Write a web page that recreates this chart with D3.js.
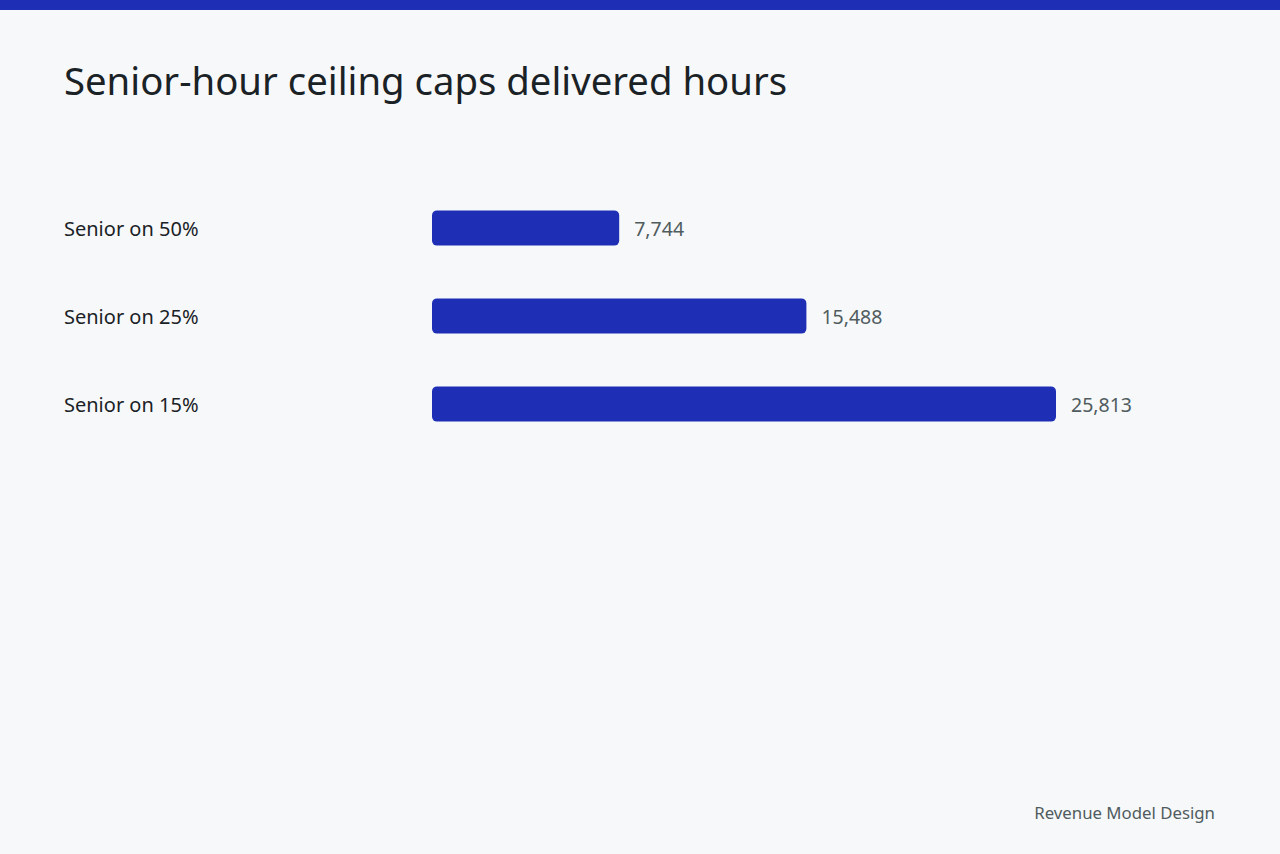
<!DOCTYPE html>
<html lang="en">
<head>
    <meta charset="UTF-8" />
    <title>Senior-hour ceiling caps delivered hours</title>
    <script src="https://d3js.org/d3.v7.min.js"></script>
    <style>
        body {
            margin: 0;
            background: #f6f8fa;
            font-family: "Noto Sans", sans-serif;
        }
    </style>
</head>
<body>
    <script>
        // Chart data
        var categories = ["Senior on 50%", "Senior on 25%", "Senior on 15%"];
        var hours = [7744, 15488, 25813];

        var w = 1280;
        var h = 854;

        var svg = d3.select("body")
            .append("svg")
            .attr("width", w)
            .attr("height", h);

        svg.append("rect")
            .attr("width", w)
            .attr("height", h)
            .style("fill", "#f6f8fa");

        // Top accent stripe
        svg.append("rect")
            .attr("width", w)
            .attr("height", 10)
            .style("fill", "#1f2fb5");

        // Title
        svg.append("text")
            .attr("x", 64)
            .attr("y", 95)
            .style("font-size", "38.3px")
            .style("fill", "#1b2226")
            .text("Senior-hour ceiling caps delivered hours");

        var xScale = d3.scaleLinear()
            .domain([0, d3.max(hours)])
            .range([432, 1056]);

        var yScale = d3.scaleBand()
            .domain(categories)
            .range([184, 448])
            .paddingInner(0.6)
            .paddingOuter(0.3);

        var rows = categories.map(function (c, i) { return { name: c, value: hours[i] }; });

        // Category labels
        svg.selectAll(".cat")
            .data(rows)
            .enter()
            .append("text")
            .attr("class", "cat")
            .attr("x", 64)
            .attr("y", function (d) { return yScale(d.name) + yScale.bandwidth() / 2 + 1; })
            .attr("dy", "0.35em")
            .style("font-size", "20px")
            .style("fill", "#1b2226")
            .text(function (d) { return d.name; });

        // Bars
        svg.selectAll(".bar")
            .data(rows)
            .enter()
            .append("rect")
            .attr("class", "bar")
            .attr("x", xScale(0))
            .attr("y", function (d) { return yScale(d.name); })
            .attr("width", function (d) { return xScale(d.value) - xScale(0); })
            .attr("height", yScale.bandwidth())
            .attr("rx", 5)
            .style("fill", "#1f2fb5");

        // Value labels
        svg.selectAll(".val")
            .data(rows)
            .enter()
            .append("text")
            .attr("class", "val")
            .attr("x", function (d) { return xScale(d.value) + 15; })
            .attr("y", function (d) { return yScale(d.name) + yScale.bandwidth() / 2 + 1; })
            .attr("dy", "0.35em")
            .style("font-size", "19.5px")
            .style("fill", "#505c5e")
            .text(function (d) { return d3.format(",")(d.value); });

        // Footer
        svg.append("text")
            .attr("x", 1215)
            .attr("y", 819)
            .attr("text-anchor", "end")
            .style("font-size", "16.8px")
            .style("fill", "#505c5e")
            .text("Revenue Model Design");
    </script>
</body>
</html>
